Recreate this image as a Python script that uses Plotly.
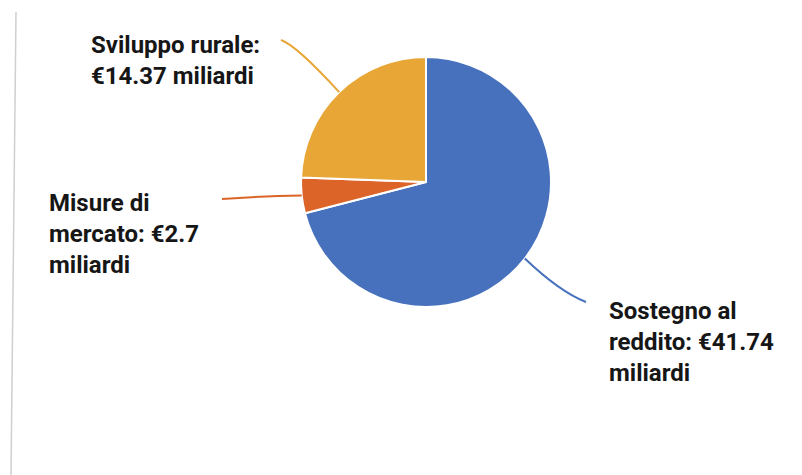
import math
import plotly.graph_objects as go

# Ripartizione della spesa (miliardi di euro), in senso orario da ore 12
categorie = ["Sostegno al reddito", "Misure di mercato", "Sviluppo rurale"]
valori = [41.74, 2.7, 14.37]
etichette = [
    "Sostegno al<br>reddito: €41.74<br>miliardi",
    "Misure di<br>mercato: €2.7<br>miliardi",
    "Sviluppo rurale:<br>€14.37 miliardi",
]
colori = ["#4771BD", "#DC6428", "#E8A636"]

W, H = 802, 475
CX, CY, R = 426, 182, 125  # pie centre and radius in pixels

fig = go.Figure()

fig.add_trace(go.Pie(
    labels=categorie,
    values=valori,
    sort=False,
    direction="clockwise",
    rotation=0,
    marker=dict(colors=colori, line=dict(color="white", width=2)),
    textinfo="none",
    hoverinfo="label+value",
    showlegend=False,
    domain=dict(x=[(CX - R) / W, (CX + R) / W], y=[1 - (CY + R) / H, 1 - (CY - R) / H]),
))

# invisible pixel-space axes for leader lines and labels
fig.add_trace(go.Scatter(x=[0, W], y=[0, H], mode="markers",
                         marker=dict(opacity=0), hoverinfo="skip", showlegend=False))

# label placement (left x, vertical centre) and leader-line bends
label_pos = [(607, 342), (47, 234), (89, 60)]
leader_end = [(586, 302), (222, 199), (281, 40)]
leader_ctrl = [(560, 292), (262, 196), (296, 45)]

totale = sum(valori)
cum = 0.0
shapes = []
annotations = []
for i, v in enumerate(valori):
    mid = (cum + v / 2) / totale
    cum += v
    ang = math.radians(90 - mid * 360)
    sx = CX + R * math.cos(ang)
    sy = CY - R * math.sin(ang)
    ex, ey = leader_end[i]
    qx, qy = leader_ctrl[i]
    shapes.append(dict(
        type="path", xref="x", yref="y",
        path=f"M {sx:.1f},{sy:.1f} Q {qx},{qy} {ex},{ey}",
        line=dict(color=colori[i], width=2),
    ))
    lx, ly = label_pos[i]
    annotations.append(dict(
        x=lx, y=ly, xref="x", yref="y", text=etichette[i],
        showarrow=False, xanchor="left", yanchor="middle", align="left",
        font=dict(family="Roboto", size=24, color="#161616", weight="bold"),
    ))

# thin frame line on the left edge
shapes.append(dict(type="line", xref="x", yref="y", x0=16, y0=12, x1=11, y1=H,
                   line=dict(color="#cfcfcf", width=1.5)))

fig.update_layout(
    width=W, height=H,
    margin=dict(l=0, r=0, t=0, b=0),
    paper_bgcolor="white", plot_bgcolor="rgba(0,0,0,0)",
    xaxis=dict(range=[0, W], visible=False, domain=[0, 1], fixedrange=True),
    yaxis=dict(range=[H, 0], visible=False, domain=[0, 1], fixedrange=True),
    shapes=shapes,
    annotations=annotations,
)

fig.write_html("out.html")
